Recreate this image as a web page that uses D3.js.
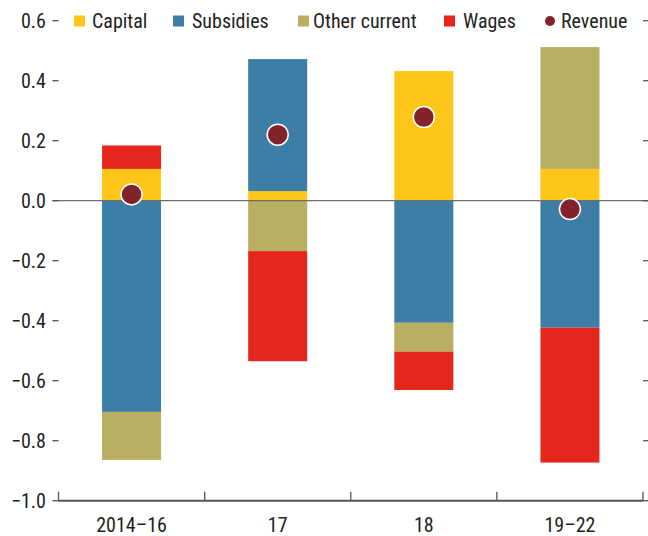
<!DOCTYPE html>
<html><head><meta charset="utf-8">
<script src="https://cdn.jsdelivr.net/npm/d3@7/dist/d3.min.js"></script>
<style>
body{margin:0;background:#fff}
svg text{font-family:"Liberation Sans Narrow","Arial Narrow","Roboto Condensed","DejaVu Sans Condensed",sans-serif;fill:#231f20}
</style></head>
<body><svg id="c" width="648" height="536"></svg>
<script>
const categories = ["2014–16", "17", "18", "19–22"];
const seriesNames = ["Capital", "Subsidies", "Other current", "Wages"];
const capital      = [0.106, 0.032, 0.432, 0.106];
const subsidies    = [-0.704, 0.440, -0.407, -0.423];
const otherCurrent = [-0.160, -0.168, -0.096, 0.406];
const wages        = [0.078, -0.367, -0.128, -0.450];
const revenue      = [0.021, 0.220, 0.279, -0.028];
const yTicks = [0.6, 0.4, 0.2, 0.0, -0.2, -0.4, -0.6, -0.8, -1.0];
const colors = ["#FFC619", "#3D7EA6", "#B8B060", "#E5261C"];
const revColor = "#82222A";

const rows = categories.map((c, i) => ({
  cat: c, "Capital": capital[i], "Subsidies": subsidies[i],
  "Other current": otherCurrent[i], "Wages": wages[i], rev: revenue[i]
}));

const svg = d3.select("#c");
const x = d3.scaleBand().domain(categories).range([58.5, 643]).padding(0);
const y = d3.scaleLinear().domain([-1.0, 0.6]).range([500.7, 20.7]);
const barW = x.bandwidth() * 0.404;
const FS = 20;

const stack = d3.stack().keys(seriesNames).offset(d3.stackOffsetDiverging).order(d3.stackOrderNone);
const layers = stack(rows);

svg.append("g").selectAll("g").data(layers).join("g")
  .attr("fill", (d, i) => colors[i])
  .selectAll("rect").data(d => d).join("rect")
  .attr("x", d => x(d.data.cat) + x.bandwidth() / 2 - barW / 2)
  .attr("width", barW)
  .attr("y", d => y(Math.max(d[0], d[1])))
  .attr("height", d => Math.abs(y(d[0]) - y(d[1])));

// zero line
svg.append("line").attr("x1", 52.5).attr("x2", 649).attr("y1", y(0)).attr("y2", y(0))
  .attr("stroke", "#6d6e70").attr("stroke-width", 1.3);

// y axis ticks left & right
const fmt = v => (v < 0 ? "\u2212" : "") + Math.abs(v).toFixed(1);
const yg = svg.append("g");
yg.selectAll("line.l").data(yTicks).join("line").attr("class", "l")
  .attr("x1", 52.5).attr("x2", 58.5).attr("y1", d => y(d)).attr("y2", d => y(d))
  .attr("stroke", "#555").attr("stroke-width", 1.3);
yg.selectAll("line.r").data(yTicks).join("line").attr("class", "r")
  .attr("x1", 643).attr("x2", 649).attr("y1", d => y(d)).attr("y2", d => y(d))
  .attr("stroke", "#555").attr("stroke-width", 1.3);
yg.selectAll("text").data(yTicks).join("text")
  .attr("x", 46).attr("y", d => y(d)).attr("dy", "0.36em")
  .attr("text-anchor", "end").attr("font-size", FS).text(fmt);

// x axis
const xg = svg.append("g");
xg.append("line").attr("x1", 58.5).attr("x2", 643).attr("y1", y(-1)).attr("y2", y(-1))
  .attr("stroke", "#555").attr("stroke-width", 2);
const bounds = categories.map(c => x(c)).concat([x.range()[1]]);
xg.selectAll("line.t").data(bounds).join("line").attr("class", "t")
  .attr("x1", d => d).attr("x2", d => d).attr("y1", y(-1)).attr("y2", y(-1) - 9)
  .attr("stroke", "#555").attr("stroke-width", 1.3);
xg.selectAll("text").data(categories).join("text")
  .attr("x", d => x(d) + x.bandwidth() / 2).attr("y", 531.5)
  .attr("text-anchor", "middle").attr("font-size", FS).text(d => d);

// revenue dots
svg.append("g").selectAll("circle").data(rows).join("circle")
  .attr("cx", d => x(d.cat) + x.bandwidth() / 2).attr("cy", d => y(d.rev))
  .attr("r", 10.5).attr("fill", revColor).attr("stroke", "#fff").attr("stroke-width", 1.5);

// legend
const legendItems = [
  {name: "Capital", color: colors[0], sx: 74, tx: 92},
  {name: "Subsidies", color: colors[1], sx: 173, tx: 192},
  {name: "Other current", color: colors[2], sx: 298, tx: 313},
  {name: "Wages", color: colors[3], sx: 444, tx: 463}
];
const lg = svg.append("g");
legendItems.forEach(it => {
  lg.append("rect").attr("x", it.sx).attr("y", 15.5).attr("width", 11).attr("height", 11).attr("fill", it.color);
  lg.append("text").attr("x", it.tx).attr("y", 21).attr("dy", "0.36em").attr("font-size", FS).text(it.name);
});
lg.append("circle").attr("cx", 550).attr("cy", 21).attr("r", 5).attr("fill", revColor);
lg.append("text").attr("x", 561).attr("y", 21).attr("dy", "0.36em").attr("font-size", FS).text("Revenue");
</script></body></html>
